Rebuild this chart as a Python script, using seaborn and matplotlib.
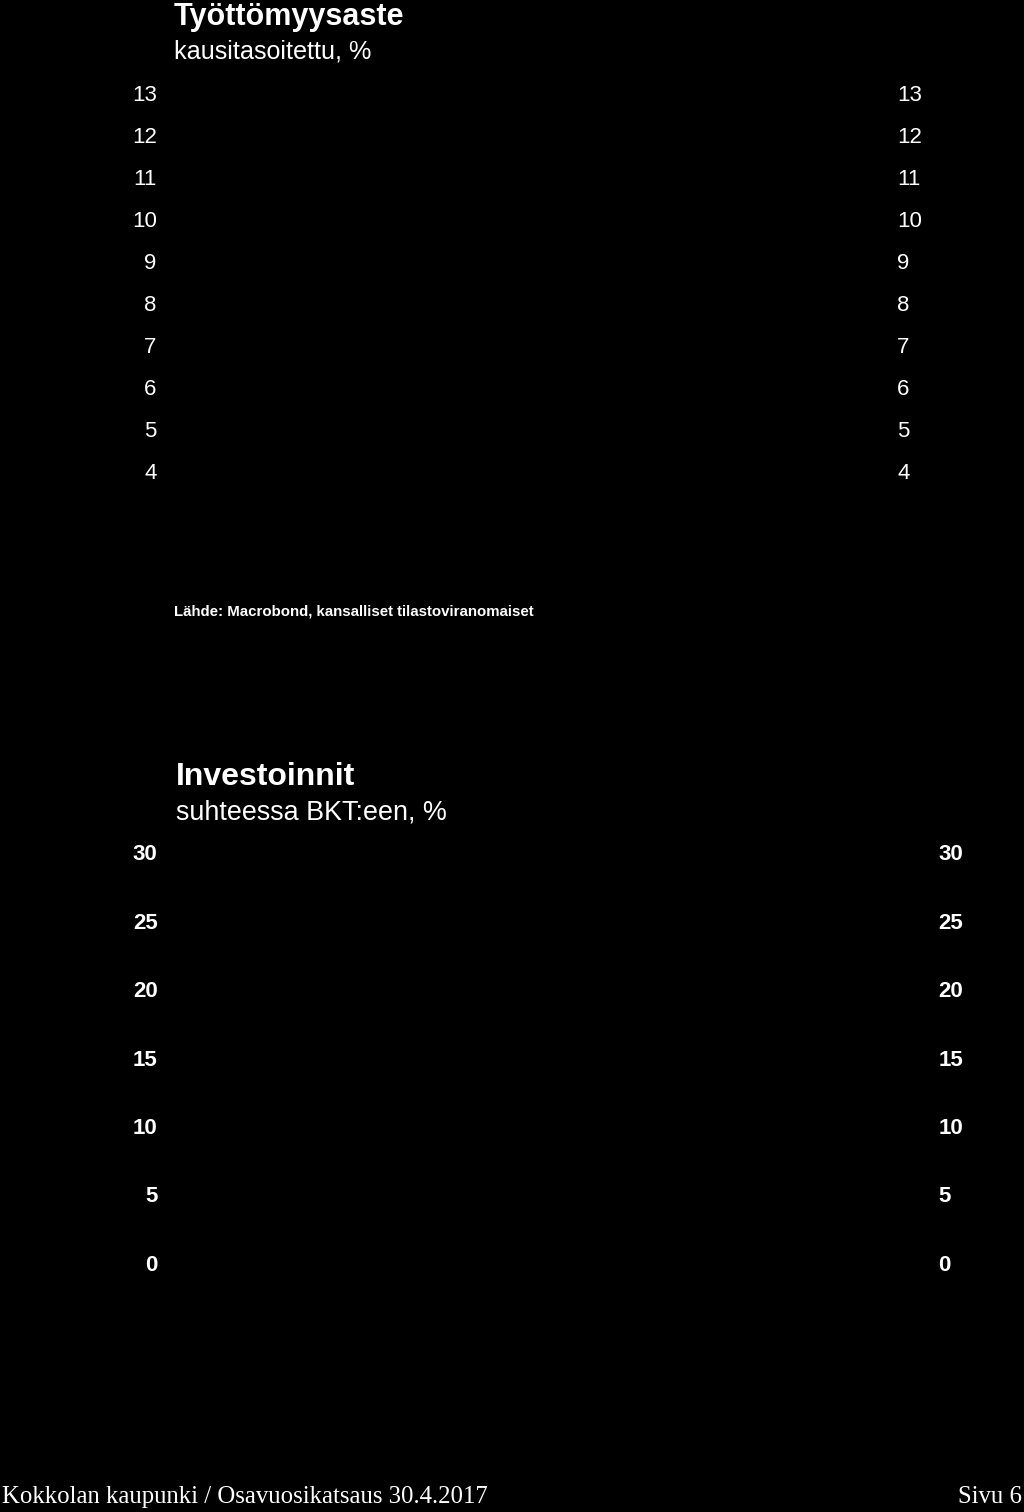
import matplotlib
matplotlib.use("Agg")
import matplotlib.pyplot as plt
import seaborn as sns

# tick values (no series are visible in the picture)
unemp_ticks = [4, 5, 6, 7, 8, 9, 10, 11, 12, 13]
invest_ticks = [0, 5, 10, 15, 20, 25, 30]

unemp_title = "Työttömyysaste"
unemp_sub = "kausitasoitettu, %"
invest_title = "Investoinnit"
invest_sub = "suhteessa BKT:een, %"
source_text = "Lähde: Macrobond, kansalliset tilastoviranomaiset"
footer_left = "Kokkolan kaupunki / Osavuosikatsaus 30.4.2017"
footer_right = "Sivu 6"

W, H = 1024, 1512

sns.set_style("dark", {"axes.facecolor": "black", "figure.facecolor": "black"})
plt.rcParams["font.family"] = ["Liberation Sans", "DejaVu Sans"]


def px_axes(fig, left, top, right, bottom):
    return fig.add_axes([left / W, 1 - bottom / H, (right - left) / W, (bottom - top) / H])


def style_axis(ax, ticks, fontsize, weight="normal"):
    ax.set_facecolor("black")
    ax.set_xlim(0, 1)
    ax.set_ylim(min(ticks), max(ticks))
    ax.set_xticks([])
    ax.set_yticks(ticks)
    ax.set_yticklabels([str(t) for t in ticks])
    ax.tick_params(axis="y", length=0, pad=6, labelleft=True, labelright=True,
                   labelsize=fontsize, labelcolor="white")
    for lab in ax.get_yticklabels():
        lab.set_fontweight(weight)
    ax.grid(False)
    sns.despine(ax=ax, left=True, bottom=True, right=True, top=True)


def main():
    fig = plt.figure(figsize=(W / 100, H / 100), dpi=100, facecolor="black")

    ax1 = px_axes(fig, 165, 93, 889, 471)
    style_axis(ax1, unemp_ticks, 16)

    ax2 = px_axes(fig, 166, 852, 930, 1263)
    style_axis(ax2, invest_ticks, 16, weight="bold")

    fig.text(174 / W, 1 - 17 / H, unemp_title, color="white", fontsize=22,
             fontweight="bold", va="center", ha="left")
    fig.text(174 / W, 1 - 52 / H, unemp_sub, color="white", fontsize=18.1,
             va="center", ha="left")
    fig.text(174 / W, 1 - 612 / H, source_text, color="white", fontsize=10.8,
             fontweight="bold", va="center", ha="left")

    fig.text(176 / W, 1 - 777 / H, invest_title, color="white", fontsize=23,
             fontweight="bold", va="center", ha="left")
    fig.text(176 / W, 1 - 812 / H, invest_sub, color="white", fontsize=19.4,
             va="center", ha="left")

    fig.text(2 / W, 1 - 1497 / H, footer_left, color="white", fontsize=17.8,
             va="center", ha="left", family=["Liberation Serif", "DejaVu Serif"])
    fig.text(1022 / W, 1 - 1497 / H, footer_right, color="white", fontsize=17.8,
             va="center", ha="right", family=["Liberation Serif", "DejaVu Serif"])

    fig.savefig("out.png", dpi=100, facecolor="black")


if __name__ == "__main__":
    main()
